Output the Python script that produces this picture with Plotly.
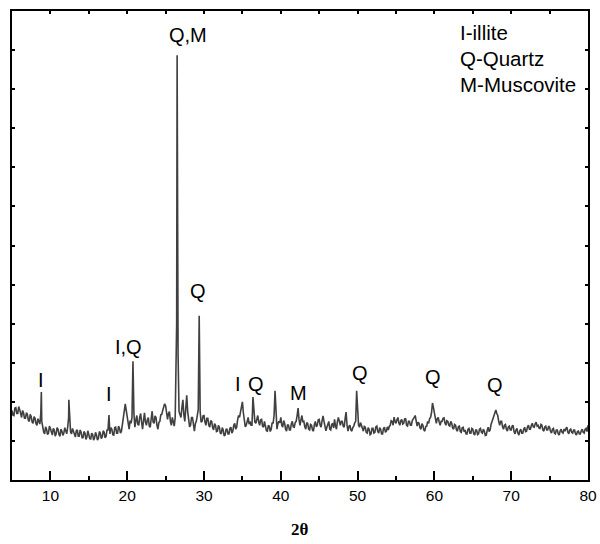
import numpy as np
import plotly.graph_objects as go

# XRD scan: intensities on a 0.125 deg grid from 5 to 80 deg (2-theta)
scan_start = 5.0
scan_step = 0.125
scan_intensity = [
    178, 166, 165, 184, 185, 170, 170, 188,   # 5
    180, 168, 160, 178, 172, 158, 158, 172,   # 6
    168, 153, 150, 168, 162, 148, 145, 162,   # 7
    158, 144, 140, 157, 150, 143, 170, 150,   # 8
    135, 123, 118, 136, 130, 116, 120, 138,   # 9
    132, 118, 115, 132, 128, 112, 118, 134,   # 10
    130, 116, 112, 130, 125, 114, 120, 134,   # 11
    128, 118, 135, 160, 150, 123, 118, 132,   # 12
    125, 113, 110, 126, 128, 112, 112, 128,   # 13
    122, 108, 108, 124, 120, 104, 110, 126,   # 14
    118, 106, 105, 120, 116, 102, 108, 122,   # 15
    115, 102, 106, 124, 120, 106, 110, 126,   # 16
    122, 108, 112, 128, 128, 166, 118, 134,   # 17
    130, 116, 115, 134, 135, 120, 120, 138,   # 18
    132, 120, 125, 142, 170, 185, 195, 178,   # 19
    160, 138, 130, 152, 145, 160, 304, 170,   # 20
    135, 152, 165, 143, 140, 160, 170, 148,   # 21
    130, 152, 172, 148, 140, 154, 160, 138,   # 22
    135, 157, 176, 148, 145, 164, 160, 140,   # 23
    130, 147, 150, 167, 168, 178, 185, 195,   # 24
    190, 168, 155, 170, 175, 150, 140, 160,   # 25
    150, 138, 160, 300, 1087, 320, 175, 165,  # 26
    160, 185, 205, 168, 150, 182, 217, 175,   # 27
    150, 136, 140, 160, 160, 138, 125, 144,   # 28
    150, 165, 180, 420, 175, 148, 150, 164,   # 29
    165, 148, 140, 158, 158, 140, 135, 152,   # 30
    150, 134, 128, 144, 140, 124, 125, 140,   # 31
    135, 120, 118, 134, 128, 113, 115, 130,   # 32
    130, 118, 118, 132, 135, 120, 125, 140,   # 33
    145, 130, 135, 154, 165, 160, 175, 185,   # 34
    200, 172, 150, 136, 140, 154, 160, 143,   # 35
    150, 140, 140, 212, 160, 148, 145, 160,   # 36
    165, 148, 140, 154, 155, 138, 135, 150,   # 37
    140, 126, 125, 140, 138, 124, 130, 147,   # 38
    145, 165, 228, 150, 130, 144, 150, 146,   # 39
    160, 140, 135, 152, 145, 130, 125, 142,   # 40
    140, 128, 128, 144, 150, 136, 135, 147,   # 41
    150, 165, 184, 155, 140, 154, 165, 148,   # 42
    150, 136, 130, 147, 145, 130, 128, 142,   # 43
    140, 128, 125, 142, 150, 136, 140, 154,   # 44
    155, 140, 135, 152, 164, 150, 140, 126,   # 45
    135, 147, 150, 130, 128, 142, 145, 133,   # 46
    155, 138, 130, 150, 160, 150, 140, 150,   # 47
    150, 138, 135, 157, 174, 140, 125, 137,   # 48
    140, 128, 125, 134, 138, 146, 150, 228,   # 49
    160, 140, 135, 147, 140, 128, 125, 137,   # 50
    135, 122, 120, 134, 130, 116, 118, 132,   # 51
    132, 120, 122, 136, 138, 124, 120, 134,   # 52
    130, 118, 118, 132, 135, 122, 125, 136,   # 53
    128, 137, 140, 152, 150, 140, 161, 150,   # 54
    145, 154, 160, 146, 140, 152, 155, 143,   # 55
    145, 156, 158, 140, 138, 150, 150, 140,   # 56
    140, 152, 155, 160, 165, 150, 138, 148,   # 57
    145, 133, 130, 144, 140, 128, 125, 137,   # 58
    138, 150, 145, 157, 160, 172, 197, 185,   # 59
    170, 155, 145, 157, 160, 148, 140, 150,   # 60
    150, 158, 159, 146, 140, 152, 150, 140,   # 61
    138, 150, 145, 133, 130, 142, 140, 128,   # 62
    125, 137, 138, 124, 122, 134, 135, 123,   # 63
    128, 118, 118, 130, 132, 120, 120, 132,   # 64
    130, 118, 115, 128, 128, 116, 118, 130,   # 65
    132, 122, 120, 130, 125, 114, 115, 127,   # 66
    135, 124, 128, 142, 150, 155, 160, 168,   # 67
    179, 170, 165, 150, 140, 150, 150, 136,   # 68
    130, 140, 142, 130, 125, 136, 138, 128,   # 69
    128, 138, 140, 124, 118, 128, 132, 120,   # 70
    115, 126, 130, 120, 120, 130, 135, 124,   # 71
    125, 136, 140, 130, 130, 140, 145, 136,   # 72
    135, 144, 148, 138, 140, 133, 132, 142,   # 73
    140, 128, 125, 136, 138, 128, 128, 138,   # 74
    135, 124, 120, 130, 132, 120, 118, 128,   # 75
    128, 118, 115, 126, 130, 122, 120, 130,   # 76
    125, 132, 135, 122, 118, 128, 130, 122,   # 77
    120, 128, 128, 118, 115, 124, 125, 118,   # 78
    118, 126, 130, 122, 120, 130, 132, 124,   # 79
    140,                                      # 80
]

# extra points measured on the sharp reflections (between grid points)
peak_theta = [8.82, 12.40, 26.44, 29.44]
peak_intensity = [225, 205, 400, 270]

# peak labels
label_text = ["I", "I", "I,Q", "Q,M", "Q", "I", "Q", "M", "Q", "Q", "Q"]
label_theta = [8.78, 17.63, 20.23, 27.92, 29.22, 34.43, 36.77, 42.24, 50.31, 59.82, 67.89]
label_y = [256, 220, 340, 1139, 484, 246, 246, 223, 274, 264, 243]

legend_lines = ["I-illite", "Q-Quartz", "M-Muscovite"]
legend_theta = 63.07
legend_y = [1146, 1079, 1011]

x_title = "<b>2θ</b>"
x_min, x_max = 5, 80
y_min, y_max = 0, 1200

grid_theta = scan_start + scan_step * np.arange(len(scan_intensity))
all_theta = np.concatenate([grid_theta, peak_theta])
all_int = np.concatenate([np.array(scan_intensity, float), peak_intensity])
order = np.argsort(all_theta)

fig = go.Figure()
fig.add_trace(go.Scatter(
    x=all_theta[order], y=all_int[order], mode="lines",
    line=dict(color="#404040", width=1.6), showlegend=False, hoverinfo="skip",
))
# invisible trace for the top axis
fig.add_trace(go.Scatter(x=[x_min, x_max], y=[y_min, y_min], xaxis="x2", mode="lines",
                         line=dict(width=0), showlegend=False, hoverinfo="skip"))

font_main = "Liberation Sans, Arial"
for t, x, y in zip(label_text, label_theta, label_y):
    fig.add_annotation(x=x, y=y, text=t, showarrow=False, xanchor="center", yanchor="middle",
                       font=dict(family=font_main, size=20, color="black"))
for t, y in zip(legend_lines, legend_y):
    fig.add_annotation(x=legend_theta, y=y, text=t, showarrow=False, xanchor="left", yanchor="middle",
                       font=dict(family=font_main, size=20.5, color="black"))
fig.add_annotation(x=0.5, y=-0.1066, xref="paper", yref="paper", text=x_title, showarrow=False,
                   xanchor="center", yanchor="middle",
                   font=dict(family="Liberation Serif, Times New Roman", size=17, color="black"))

fig.update_layout(
    width=600, height=544,
    margin=dict(l=12, r=12, t=11, b=64, autoexpand=False),
    paper_bgcolor="white", plot_bgcolor="white",
    xaxis=dict(range=[x_min, x_max], dtick=10, tick0=0, ticks="inside", ticklen=9, tickwidth=1.5,
               tickcolor="black", showline=True, linecolor="black", linewidth=2, showgrid=False,
               zeroline=False, mirror=False, automargin=False,
               minor=dict(dtick=5, tick0=0, ticks="inside", ticklen=4, tickwidth=1.5, tickcolor="black"),
               tickfont=dict(family=font_main, size=15.5, color="black")),
    xaxis2=dict(range=[x_min, x_max], overlaying="x", side="top", dtick=5, tick0=0, ticks="inside",
                ticklen=3, tickwidth=1.5, tickcolor="black", showline=True, linecolor="black",
                linewidth=2, showticklabels=False, showgrid=False, zeroline=False, automargin=False),
    yaxis=dict(range=[y_min, y_max], dtick=100, tick0=0, ticks="inside", ticklen=3, tickwidth=1.5,
               tickcolor="black", showline=True, linecolor="black", linewidth=2, mirror="ticks",
               showticklabels=False, showgrid=False, zeroline=False, automargin=False),
)

fig.write_html("out.html", config={"displayModeBar": False},
               post_script="document.body.style.margin='0';document.body.style.overflow='hidden';")
